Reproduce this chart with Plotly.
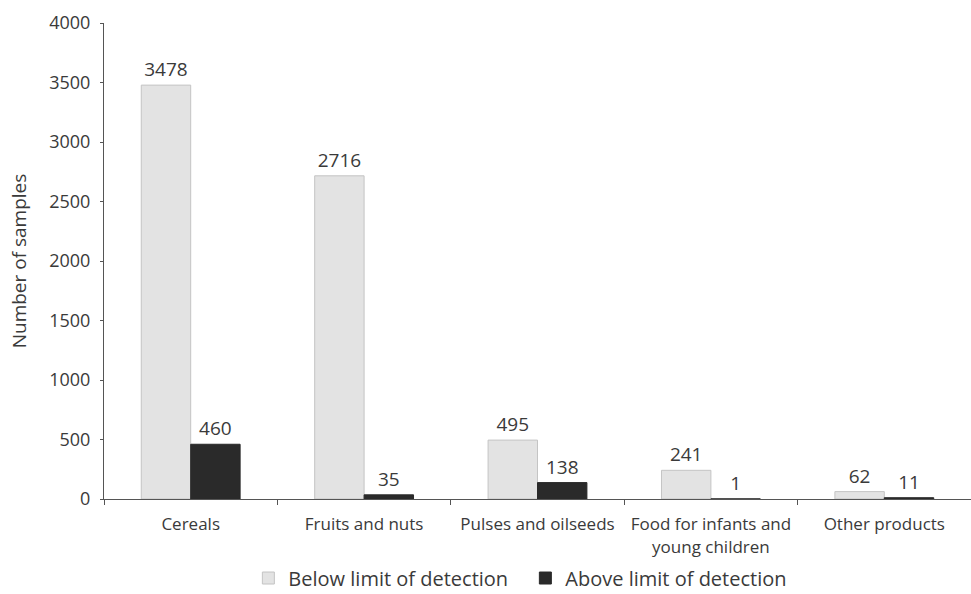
import plotly.graph_objects as go

categories = ["Cereals", "Fruits and nuts", "Pulses and oilseeds",
              "Food for infants and<br>young children", "Other products"]
below_lod = [3478, 2716, 495, 241, 62]
above_lod = [460, 35, 138, 1, 11]
y_ticks = [0, 500, 1000, 1500, 2000, 2500, 3000, 3500, 4000]

FONT = "'Open Sans', 'Noto Sans', sans-serif"
TXT = "#3a3a3a"

fig = go.Figure()
fig.add_trace(go.Bar(
    x=categories, y=below_lod, name="Below limit of detection",
    marker=dict(color="#e3e3e3", line=dict(color="#c4c4c4", width=1)),
    text=[str(v) for v in below_lod], textposition="outside",
    textfont=dict(size=19, color=TXT, family=FONT), cliponaxis=False,
))
fig.add_trace(go.Bar(
    x=categories, y=above_lod, name="Above limit of detection",
    marker=dict(color="#2a2a2a", line=dict(color="#2a2a2a", width=1)),
    text=[str(v) for v in above_lod], textposition="outside",
    textfont=dict(size=19, color=TXT, family=FONT), cliponaxis=False,
))

fig.update_layout(
    width=971, height=594,
    margin=dict(l=104, r=0, t=23, b=95, autoexpand=False),
    paper_bgcolor="white", plot_bgcolor="white",
    barmode="group", bargap=0.43, bargroupgap=0,
    font=dict(family=FONT, color=TXT, size=16),
    showlegend=True,
    legend=dict(orientation="h", x=0.486, xanchor="center", y=-0.166, yanchor="middle",
                font=dict(size=20, color=TXT), traceorder="normal",
                itemwidth=30, entrywidth=232, entrywidthmode="pixels"),
    xaxis=dict(showline=True, linecolor="#555", linewidth=1,
               ticks="outside", tickson="boundaries", ticklen=5, tickcolor="#555",
               ticklabelstandoff=10, tickangle=0,
               tickfont=dict(size=17, color=TXT), showgrid=False),
    yaxis=dict(range=[0, 4000], tickvals=y_ticks, showline=True, linecolor="#555",
               linewidth=1, ticks="outside", ticklen=3, tickcolor="#555",
               ticklabelstandoff=6,
               showgrid=False, zeroline=False,
               tickfont=dict(size=18, color=TXT),
               title=dict(text="Number of samples", font=dict(size=19, color=TXT), standoff=17)),
)

fig.write_html("out.html")
